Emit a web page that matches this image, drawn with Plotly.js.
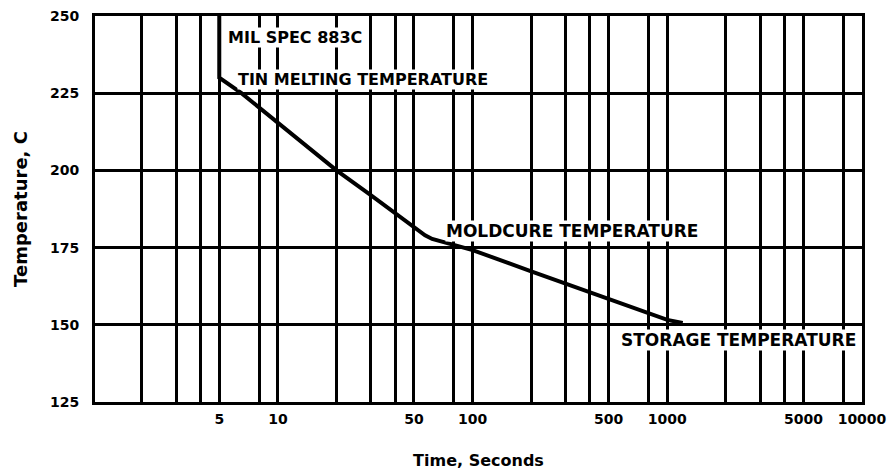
<!DOCTYPE html>
<html>
<head>
<meta charset="utf-8">
<script src="https://cdn.plot.ly/plotly-3.0.1.min.js"></script>
<style>html,body{margin:0;padding:0;background:#fff;}#chart{width:891px;height:470px;}</style>
</head>
<body>
<div id="chart"></div>
<script>
// Curve (time in seconds, temperature in C)
const timeSec = [5, 5, 6.5, 10, 20, 30, 40, 50, 57, 62, 100, 200, 500, 1000, 1200];
const tempC   = [250, 230, 225, 215.3, 200, 192, 186.3, 181.8, 179, 177.8, 174.2, 167.3, 158.5, 151.6, 150.6];

// Axis tick labels and grid positions
const xTickVals = [5, 10, 50, 100, 500, 1000, 5000, 10000];
const xTickText = ['5', '10', '50', '100', '500', '1000', '5000', '10000'];
const xGridVals = [2, 3, 4, 8, 20, 30, 40, 80, 200, 300, 400, 800, 2000, 3000, 4000, 8000];
const yTickVals = [125, 150, 175, 200, 225, 250];

// Curve labels
const labelText = ['MIL SPEC 883C', 'TIN MELTING TEMPERATURE', 'MOLDCURE TEMPERATURE', 'STORAGE TEMPERATURE'];
const labelX = [5.5, 6.2, 72, 571];
const labelY = [243.2, 229.6, 180.5, 145];
const labelSize = [16, 16, 17, 17];

const FONT = 'DejaVu Sans, Liberation Sans, Arial, sans-serif';

const trace = {
  x: timeSec, y: tempC, type: 'scatter', mode: 'lines',
  line: {color: '#000', width: 4}, hoverinfo: 'x+y', showlegend: false
};

const annotations = labelText.map((t, i) => ({
  x: Math.log10(labelX[i]), y: labelY[i], xref: 'x', yref: 'y',
  text: t, showarrow: false, xanchor: 'left', yanchor: 'middle',
  bgcolor: '#fff', borderpad: 0,
  font: {family: FONT, size: labelSize[i], color: '#000', weight: 'bold'}
}));

const layout = {
  width: 891, height: 470,
  margin: {l: 95, r: 29, t: 16, b: 68},
  paper_bgcolor: '#fff', plot_bgcolor: '#fff',
  font: {family: FONT, color: '#000', weight: 'bold'},
  xaxis: {
    type: 'log', range: [Math.log10(1.15), 4],
    tickmode: 'array', tickvals: xTickVals, ticktext: xTickText,
    showgrid: true, gridcolor: '#000', gridwidth: 3,
    minor: {tickmode: 'array', tickvals: xGridVals, showgrid: true, gridcolor: '#000', gridwidth: 3, ticks: ''},
    showline: true, linecolor: '#000', linewidth: 3, mirror: true,
    ticks: '', ticklabelstandoff: 2, zeroline: false,
    tickfont: {family: FONT, size: 14, color: '#000', weight: 'bold'},
    title: {text: 'Time, Seconds', standoff: 34, font: {family: FONT, size: 16, color: '#000', weight: 'bold'}},
    fixedrange: true
  },
  yaxis: {
    range: [125, 250], tickmode: 'array', tickvals: yTickVals,
    showgrid: true, gridcolor: '#000', gridwidth: 3,
    showline: true, linecolor: '#000', linewidth: 3, mirror: true,
    ticks: '', ticklabelstandoff: 10, zeroline: false,
    tickfont: {family: FONT, size: 14, color: '#000', weight: 'bold'},
    title: {text: 'Temperature, C', standoff: 18, font: {family: FONT, size: 18, color: '#000', weight: 'bold'}},
    fixedrange: true
  },
  annotations: annotations
};

Plotly.newPlot('chart', [trace], layout, {displayModeBar: false});
</script>
</body>
</html>
